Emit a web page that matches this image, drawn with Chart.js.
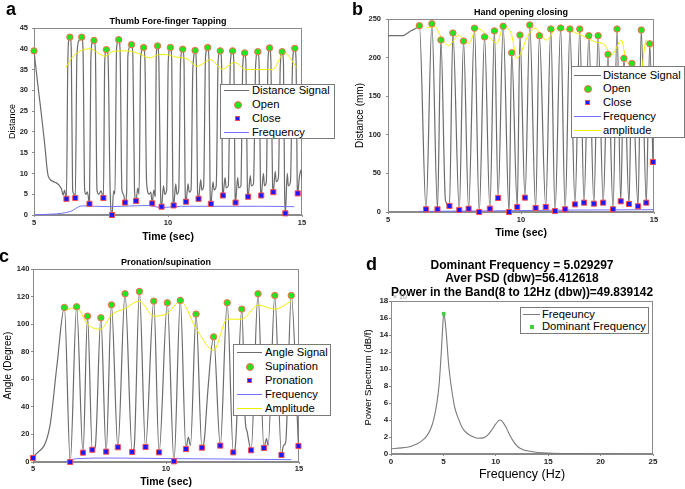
<!DOCTYPE html>
<html>
<head>
<meta charset="utf-8">
<script src="https://cdn.jsdelivr.net/npm/chart.js@4.4.1/dist/chart.umd.min.js"></script>
<style>
body{margin:0;background:#fff;font-family:"Liberation Sans",Arial,sans-serif;}
#wrap{position:relative;width:685px;height:489px;overflow:hidden;background:#fff;}
canvas{position:absolute;}
.tag{position:absolute;font:bold 18px/18px "Liberation Sans",Arial,sans-serif;color:#000;}
.legend{position:absolute;box-sizing:border-box;background:#fff;border:1px solid #7a7a7a;font:11.2px "Liberation Sans",Arial,sans-serif;color:#000;}
.legend span{position:absolute;white-space:nowrap;line-height:13px;height:13px;}
.legend i{position:absolute;display:block;}
.mul{position:absolute;font:7px "Liberation Sans",Arial,sans-serif;color:#999;}
</style>
</head>
<body>
<div id="wrap">
  <canvas id="ca" width="340" height="245" style="left:0;top:0;width:340px;height:245px"></canvas>
  <canvas id="cb" width="345" height="245" style="left:340px;top:0;width:345px;height:245px"></canvas>
  <canvas id="cc" width="340" height="244" style="left:0;top:245px;width:340px;height:244px"></canvas>
  <canvas id="cd" width="345" height="244" style="left:340px;top:245px;width:345px;height:244px"></canvas>
  <div class="tag" style="left:6px;top:0">a</div>
  <div class="tag" style="left:352px;top:0">b</div>
  <div class="tag" style="left:-1px;top:247px">c</div>
  <div class="tag" style="left:366px;top:255px">d</div>
  <div class="mul" style="left:393px;top:293px">× 10</div>
</div>
<script>
// ---- a: thumb / fore-finger tapping ----
const aSignal = [
  [5.00,39.5],[5.14,31.5],[5.27,24.5],[5.40,17.0],[5.53,9.4],[5.78,7.9],[6.02,6.4],[6.09,4.8],[6.14,6.0],[6.21,3.9],
  [6.26,36.0],[6.30,42.5],[6.34,42.8],[6.39,40.0],[6.44,6.0],[6.48,5.2],[6.54,4.1],
  [6.60,38.0],[6.68,42.0],[6.78,42.8],[6.83,39.5],[6.89,6.0],[6.94,5.0],[6.99,5.6],[7.07,2.7],
  [7.12,37.0],[7.17,41.5],[7.24,42.0],[7.29,39.5],[7.35,6.0],[7.42,5.0],[7.50,5.8],[7.59,4.1],
  [7.64,37.0],[7.70,39.8],[7.76,38.5],[7.84,6.0],[7.91,0.0],[7.97,5.8],[8.02,5.0],
  [8.08,40.0],[8.16,42.2],[8.21,40.0],[8.28,6.0],[8.34,5.0],[8.40,3.0],
  [8.46,5.8],[8.50,38.0],[8.58,40.5],[8.64,41.0],[8.69,38.0],[8.75,6.0],[8.81,3.4],
  [8.87,6.5],[8.92,5.0],[8.98,38.0],[9.09,40.3],[9.14,37.0],[9.20,8.0],[9.30,5.0],[9.36,5.5],[9.41,2.8],
  [9.47,6.0],[9.52,4.5],[9.56,38.0],[9.61,40.7],[9.66,37.0],[9.72,6.0],[9.76,2.0],
  [9.83,7.0],[9.88,5.0],[9.95,6.0],[10.01,37.0],[10.09,40.3],[10.14,37.0],[10.18,6.0],[10.21,2.3],
  [10.29,7.5],[10.33,5.0],[10.40,6.0],[10.47,37.0],[10.55,39.9],[10.60,36.0],[10.64,6.0],[10.67,3.2],
  [10.75,7.5],[10.79,5.5],[10.86,6.0],[10.92,33.5],[10.96,38.0],[11.01,39.6],[11.06,36.0],[11.10,6.0],[11.14,3.9],
  [11.22,8.5],[11.26,6.0],[11.33,7.0],[11.40,38.0],[11.48,40.3],[11.53,37.0],[11.57,6.0],[11.60,2.7],
  [11.68,8.0],[11.72,6.0],[11.80,7.0],[11.87,37.0],[11.95,39.5],[12.00,36.0],[12.03,7.0],[12.05,4.7],
  [12.13,9.0],[12.17,6.5],[12.25,7.0],[12.33,37.0],[12.41,39.5],[12.46,36.0],[12.50,6.0],[12.52,3.0],
  [12.60,9.0],[12.64,6.5],[12.72,7.0],[12.79,36.0],[12.86,39.0],[12.91,36.0],[12.96,7.0],[12.99,4.4],
  [13.07,9.5],[13.11,7.0],[13.19,7.5],[13.27,36.0],[13.35,39.3],[13.40,36.0],[13.45,7.0],[13.48,4.7],
  [13.56,10.0],[13.60,7.0],[13.67,8.0],[13.73,37.0],[13.79,40.2],[13.84,37.0],[13.90,8.0],[13.93,5.5],
  [14.00,10.5],[14.04,8.0],[14.12,9.0],[14.19,36.0],[14.26,39.3],[14.31,36.0],[14.35,6.0],[14.38,0.4],
  [14.45,10.0],[14.49,7.0],[14.57,8.0],[14.65,37.0],[14.73,40.1],[14.78,37.0],[14.82,8.0],[14.84,5.2],
  [14.90,9.0],[14.96,10.8],[15.00,8.5]
];
const aOpen = [[5.00,39.5],[6.34,42.8],[6.78,42.8],[7.24,42.0],[7.70,39.8],[8.16,42.2],[8.64,41.0],
  [9.09,40.3],[9.61,40.7],[10.09,40.3],[10.55,39.9],[11.01,39.6],[11.48,40.3],[11.95,39.5],
  [12.41,39.5],[12.86,39.0],[13.35,39.3],[13.79,40.2],[14.26,39.3],[14.73,40.1]];
const aClose = [[6.21,3.9],[6.54,4.1],[7.07,2.7],[7.59,4.1],[7.91,0.0],[8.40,3.0],[8.81,3.4],
  [9.41,2.8],[9.76,2.0],[10.21,2.3],[10.67,3.2],[11.14,3.9],[11.60,2.7],[12.05,4.7],
  [12.52,3.0],[12.99,4.4],[13.48,4.7],[13.93,5.5],[14.38,0.4],[14.84,5.2]];
const aAmp = [[6.19,35.5],[6.46,38.2],[7.09,40.0],[7.65,38.2],[7.96,39.4],[8.46,39.5],[8.84,39.0],
  [9.34,37.8],[9.65,38.6],[9.90,38.6],[10.30,38.0],[10.70,37.6],[11.09,35.8],[11.59,37.4],
  [12.02,35.1],[12.49,36.7],[12.90,35.0],[13.90,35.0],[14.34,39.0],[14.80,35.5]];
const aFreq = [[5.0,0.0],[6.34,0.8],[6.78,2.2],[7.84,2.0],[9.21,2.3],[9.77,1.8],[10.5,2.1],[13.5,2.1],[14.71,2.0]];

// ---- b: hand opening / closing ----
const bSignal = [
  [5.00,228.4],[5.55,228.4],[5.85,234.5],[6.05,238.0],[6.18,241.3],[6.43,3.5],[6.65,243.9],[6.86,3.5],[6.99,222.8],
  [7.16,15.0],[7.31,7.8],[7.44,231.8],[7.68,2.6],[7.84,221.4],[8.03,4.3],[8.25,238.1],[8.43,0.0],
  [8.63,226.8],[8.83,4.3],[9.00,234.6],[9.14,18.2],[9.33,240.6],[9.55,0.0],[9.65,206.3],[9.86,6.5],
  [9.96,229.2],[10.15,18.6],[10.33,242.2],[10.55,5.2],[10.69,228.4],[10.93,6.5],[11.12,237.0],[11.28,1.3],
  [11.49,238.3],[11.66,3.5],[11.84,237.0],[12.03,9.9],[12.21,237.0],[12.37,12.1],[12.55,228.4],[12.74,10.8],
  [12.90,228.4],[13.09,12.1],[13.27,204.2],[13.46,3.5],[13.61,237.0],[13.75,13.9],[13.87,199.0],[14.06,10.4],
  [14.17,192.5],[14.40,7.4],[14.52,235.7],[14.71,12.1],[14.84,217.9],[14.96,64.8]
];
const bOpen = [[6.18,241.3],[6.65,243.9],[6.99,222.8],[7.44,231.8],[7.84,221.4],[8.25,238.1],[8.63,226.8],
  [9.00,234.6],[9.33,240.6],[9.65,206.3],[9.96,229.2],[10.33,242.2],[10.69,228.4],[11.12,237.0],
  [11.49,238.3],[11.84,237.0],[12.21,237.0],[12.55,228.4],[12.90,228.4],[13.27,204.2],[13.61,237.0],
  [13.87,199.0],[14.17,192.5],[14.52,235.7],[14.84,217.9]];
const bClose = [[6.43,3.5],[6.86,3.5],[7.31,7.8],[7.68,2.6],[8.03,4.3],[8.43,0.0],[8.83,4.3],[9.14,18.2],
  [9.55,0.0],[9.86,6.5],[10.15,18.6],[10.55,5.2],[10.93,6.5],[11.28,1.3],[11.66,3.5],[12.03,9.9],
  [12.37,12.1],[12.74,10.8],[13.09,12.1],[13.46,3.5],[13.75,13.9],[14.06,10.4],[14.40,7.4],[14.71,12.1],[14.96,64.8]];
const bAmp = [[6.46,238.7],[6.77,240.0],[6.96,229.0],[7.28,215.4],[7.65,229.0],[8.03,218.4],[8.34,238.0],
  [8.84,225.0],[9.09,218.4],[9.34,240.0],[9.65,229.0],[9.84,199.0],[10.27,229.0],[10.52,238.0],
  [10.96,222.7],[11.34,238.0],[11.77,235.7],[12.27,229.0],[12.77,220.5],[13.15,216.3],[13.40,203.3],
  [13.78,222.7],[13.96,194.6],[14.21,190.3],[14.46,168.6],[14.71,222.7],[14.90,212.0]];
const bFreq = [[6.18,0.8],[9.0,1.5],[12.0,2.5],[15.0,3.0]];

// ---- c: pronation / supination ----
const cSignal = [
  [5.00,2.9],[5.63,25.4],[5.90,70.0],[6.18,112.1],[6.40,0.0],[6.64,112.6],[6.88,6.8],[7.05,105.8],
  [7.23,8.9],[7.34,11.0],[7.55,104.6],[7.75,7.5],[7.95,114.0],[8.19,10.7],[8.46,122.0],[8.73,7.3],
  [8.80,10.0],[9.00,123.7],[9.23,10.9],[9.54,116.7],[9.74,7.0],[10.05,115.5],[10.30,0.5],[10.54,117.2],
  [10.75,9.4],[10.84,18.0],[10.92,12.0],[11.13,107.3],[11.35,10.4],[11.44,16.0],[11.57,51.0],[11.79,90.8],
  [12.04,11.9],[12.30,115.5],[12.53,7.0],[12.60,10.0],[12.85,110.9],[12.98,30.0],[13.05,22.0],[13.20,8.5],
  [13.46,122.0],[13.68,10.2],[13.78,17.0],[13.84,12.0],[14.09,120.8],[14.34,5.1],[14.42,12.0],[14.50,14.5],
  [14.71,120.8],[14.98,11.6]
];
const cSup = [[6.18,112.1],[6.64,112.6],[7.05,105.8],[7.55,104.6],[7.95,114.0],[8.46,122.0],[9.00,123.7],
  [9.54,116.7],[10.05,115.5],[10.54,117.2],[11.13,107.3],[11.79,90.8],[12.30,115.5],[12.85,110.9],
  [13.46,122.0],[14.09,120.8],[14.71,120.8]];
const cPro = [[5.00,2.9],[6.40,0.0],[6.88,6.8],[7.23,8.9],[7.75,7.5],[8.19,10.7],[8.73,7.3],[9.23,10.9],
  [9.74,7.0],[10.30,0.5],[10.75,9.4],[11.35,10.4],[12.04,11.9],[12.53,7.0],[13.20,8.5],[13.68,10.2],
  [14.34,5.1],[14.98,11.6]];
const cAmp = [[6.18,110.0],[6.64,112.0],[7.05,99.8],[7.55,96.4],[7.95,106.6],[8.46,111.4],[9.00,116.7],
  [9.54,105.8],[10.05,107.8],[10.54,116.7],[11.13,96.9],[11.79,81.1],[12.30,103.6],[12.85,103.6],
  [13.46,113.8],[14.09,110.9],[14.71,116.7]];
const cFreq = [[6.18,0.0],[6.64,2.4],[7.90,2.9],[10.0,2.5],[12.0,2.2],[14.71,1.7]];

// ---- d: power spectrum ----
const dFreq = [0,1,1.5,2,2.5,3,3.4,3.8,4.1,4.4,4.6,4.8,4.95,5.03,5.15,5.3,5.5,5.8,6.1,6.45,
  6.8,7.2,7.7,8.3,8.8,9.2,9.6,9.95,10.25,10.45,10.7,11.0,11.3,11.7,12.1,12.6,13.0,14.0,15.0,17.0,20.0,25.0];
const dPsd = [0.62,0.72,0.8,0.95,1.2,1.6,2.1,3.0,4.2,6.2,8.3,12.0,15.3,16.5,15.8,13.8,10.5,7.5,5.4,4.1,
  3.1,2.5,2.1,1.85,1.9,2.2,2.8,3.45,3.9,4.0,3.7,3.1,2.3,1.45,0.85,0.5,0.38,0.18,0.1,0.04,0.02,0.0];
const dDominant = [[5.03,16.5]];
const dTitle = ['Dominant Frequency = 5.029297', 'Aver PSD (dbw)=56.412618', 'Power in the Band(8 to 12Hz (dbw))=49.839142'];

Chart.defaults.font.family = '"Liberation Sans", Arial, Helvetica, sans-serif';
Chart.defaults.color = '#262626';

const pts = arr => arr.map(([x, y]) => ({x, y}));

const framePlugin = {
  id: 'frame',
  beforeDatasetsDraw(chart) {
    const {ctx, chartArea: a} = chart;
    ctx.save();
    ctx.strokeStyle = '#8a8a8a';
    ctx.lineWidth = 1;
    ctx.strokeRect(Math.round(a.left) + 0.5, Math.round(a.top) + 0.5,
      Math.round(a.right - a.left) - 1, Math.round(a.bottom - a.top) - 1);
    ctx.restore();
  }
};

function axis(min, max, step, size, pad, title, font, tpad, tickSize) {
  return {
    type: 'linear', min, max,
    ticks: {stepSize: step, padding: pad, autoSkip: false, maxRotation: 0,
            color: '#262626', font: {size: tickSize || 7.5, weight: 'bold'}},
    grid: {drawOnChartArea: false, tickLength: 2, tickColor: '#8a8a8a'},
    border: {display: true, color: '#8a8a8a'},
    title: {display: true, text: title, color: '#000', font, padding: tpad},
    afterFit(s) { if (s.isHorizontal()) s.height = size; else s.width = size; }
  };
}

const lineSet = (data, color, order) => ({data: pts(data), borderColor: color, borderWidth: 1,
  pointRadius: 0, cubicInterpolationMode: 'monotone', fill: false, order});
const sigSet = data => ({data: pts(data), borderColor: '#6c6c6c', borderWidth: 1.2,
  pointRadius: 0, cubicInterpolationMode: 'monotone', fill: false, order: 3});
const openSet = data => ({data: pts(data), showLine: false, pointStyle: 'circle', pointRadius: 3.2,
  pointBackgroundColor: '#22e522', pointBorderColor: '#ff6a50', pointBorderWidth: 1, clip: false, order: 0});
const closeSet = data => ({data: pts(data), showLine: false, pointStyle: 'rect', pointRadius: 3.6,
  pointBackgroundColor: '#1a1aff', pointBorderColor: '#ff4a4a', pointBorderWidth: 1, clip: false, order: 0});

function panel(id, c) {
  return new Chart(document.getElementById(id), {
    type: 'line',
    data: {datasets: c.datasets},
    options: {
      responsive: false, devicePixelRatio: 1, animation: false,
      layout: {padding: {left: 0, top: 0, right: c.padRight, bottom: 0}},
      plugins: {
        legend: {display: false}, tooltip: {enabled: false},
        title: {display: true, text: c.title, color: '#000', fullSize: false,
                font: c.titleFont, padding: c.titlePad}
      },
      scales: {x: c.x, y: c.y}
    },
    plugins: [framePlugin]
  });
}

const SIG = '#6c6c6c', FRQ = '#7272ff', AMP = '#f0f000';

panel('ca', {
  title: 'Thumb Fore-finger Tapping', titleFont: {size: 9, weight: 'bold', lineHeight: 1.2},
  titlePad: {top: 16.6, bottom: 0.6}, padRight: 38,
  x: axis(5, 15, 5, 30, 1, 'Time (sec)', {size: 10.5, weight: 'bold'}, {top: 0, bottom: 2}),
  y: axis(0, 45, 5, 34, 4, 'Distance', {size: 9}, {top: 7, bottom: 0}),
  datasets: [openSet(aOpen), closeSet(aClose), lineSet(aFreq, FRQ, 2), lineSet(aAmp, AMP, 1), sigSet(aSignal)]
});

panel('cb', {
  title: 'Hand opening closing', titleFont: {size: 9, weight: 'bold', lineHeight: 1.2},
  titlePad: {top: 7.6, bottom: 0.6}, padRight: 31,
  x: axis(5, 15, 5, 33, 1.5, 'Time (sec)', {size: 10.5, weight: 'bold'}, {top: 0, bottom: 5.4}),
  y: axis(0, 250, 50, 48, 5, 'Distance (mm)', {size: 10}, {top: 14, bottom: 0}),
  datasets: [openSet(bOpen), closeSet(bClose), lineSet(bFreq, FRQ, 2), lineSet(bAmp, AMP, 1), sigSet(bSignal)]
});

panel('cc', {
  title: 'Pronation/supination', titleFont: {size: 9, weight: 'bold', lineHeight: 1.2},
  titlePad: {top: 11.9, bottom: 1.3}, padRight: 41,
  x: axis(5, 15, 5, 27, 0.5, 'Time (sec)', {size: 10.5, weight: 'bold'}, {top: 0, bottom: 0.4}),
  y: axis(0, 140, 20, 33, 1.7, 'Angle (Degree)', {size: 10}, {top: 2.3, bottom: 0}),
  datasets: [openSet(cSup), closeSet(cPro), lineSet(cFreq, FRQ, 2), lineSet(cAmp, AMP, 1), sigSet(cSignal)]
});

panel('cd', {
  title: dTitle, titleFont: {size: 12, weight: 'bold', lineHeight: 1.15},
  titlePad: {top: 13.3, bottom: 1.3}, padRight: 32,
  x: axis(0, 25, 5, 35, 1, 'Frequency (Hz)', {size: 12.5}, {top: 0, bottom: 6.5}, 8),
  y: axis(0, 18, 2, 51, 0.7, 'Power Spectrum (dB/f)', {size: 9.5}, {top: 22.6, bottom: 0}, 8),
  datasets: [
    {data: pts(dDominant), showLine: false, pointStyle: 'rect', pointRadius: 2.6,
     pointBackgroundColor: '#3fcf3f', pointBorderWidth: 0, clip: false, order: 0},
    {data: dFreq.map((f, i) => ({x: f, y: dPsd[i]})), borderColor: '#7a7a7a', borderWidth: 1.1,
     pointRadius: 0, cubicInterpolationMode: 'monotone', fill: false, order: 1}
  ]
});

// ---- legends (HTML boxes laid over the plots) ----
function legend(b) {
  const box = document.createElement('div');
  box.className = 'legend';
  Object.assign(box.style, {left: b.left + 'px', top: b.top + 'px', width: b.w + 'px', height: b.h + 'px'});
  b.items.forEach(([kind, color, label], i) => {
    const cy = Math.round(b.first + i * b.step);
    if (kind === 'line') {
      const l = document.createElement('i');
      Object.assign(l.style, {left: b.l0 + 'px', width: (b.l1 - b.l0) + 'px', top: (cy - 2) + 'px',
        height: '1px', background: color});
      box.appendChild(l);
    } else if (kind === 'dot') {
      const d = document.createElement('i');
      Object.assign(d.style, {left: (b.mx - 4) + 'px', top: (cy - 5) + 'px', width: '6px', height: '6px',
        borderRadius: '50%', background: '#22e522', border: '1px solid #ff6a50'});
      box.appendChild(d);
    } else if (kind === 'sq') {
      const d = document.createElement('i');
      Object.assign(d.style, {left: (b.mx - 3) + 'px', top: (cy - 4) + 'px', width: '5px', height: '5px',
        background: '#1a1aff', border: '1px solid #ff4a4a', boxSizing: 'border-box'});
      box.appendChild(d);
    } else if (kind === 'gsq') {
      const d = document.createElement('i');
      Object.assign(d.style, {left: (b.mx - 2) + 'px', top: (cy - 3) + 'px', width: '4px', height: '4px',
        background: '#3fcf3f'});
      box.appendChild(d);
    }
    const t = document.createElement('span');
    t.textContent = label;
    Object.assign(t.style, {left: b.tx + 'px', top: (cy - 8) + 'px'});
    box.appendChild(t);
  });
  document.getElementById('wrap').appendChild(box);
}

legend({left: 220, top: 84, w: 115, h: 55, first: 7, step: 13.9, tx: 31, l0: 3, l1: 28, mx: 17,
  items: [['line', SIG, 'Distance Signal'], ['dot', '', 'Open'], ['sq', '', 'Close'], ['line', FRQ, 'Frequency']]});
legend({left: 571, top: 66, w: 114, h: 72, first: 9.5, step: 13.9, tx: 31, l0: 2, l1: 29, mx: 16,
  items: [['line', SIG, 'Distance Signal'], ['dot', '', 'Open'], ['sq', '', 'Close'],
          ['line', FRQ, 'Frequency'], ['line', AMP, 'amplitude']]});
legend({left: 233, top: 344, w: 98, h: 72, first: 8.5, step: 14, tx: 31, l0: 3, l1: 28, mx: 16,
  items: [['line', SIG, 'Angle Signal'], ['dot', '', 'Supination'], ['sq', '', 'Pronation'],
          ['line', FRQ, 'Frequency'], ['line', AMP, 'Amplitude']]});
legend({left: 520, top: 307, w: 129, h: 27, first: 7.5, step: 12.4, tx: 21, l0: 2, l1: 19, mx: 11,
  items: [['line', '#7a7a7a', 'Freqeuncy'], ['gsq', '', 'Dominant Frequency']]});
</script>
</body>
</html>
